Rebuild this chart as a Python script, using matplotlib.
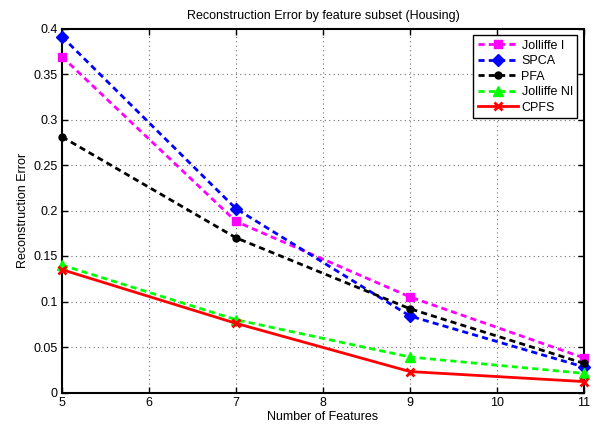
import matplotlib
matplotlib.use("Agg")
import matplotlib.pyplot as plt

plt.rcParams['font.family'] = ['Liberation Sans', 'DejaVu Sans']

n_features = [5, 7, 9, 11]
jolliffe_i = [0.369, 0.188, 0.105, 0.038]
spca = [0.391, 0.202, 0.084, 0.028]
pfa = [0.281, 0.170, 0.092, 0.032]
jolliffe_ni = [0.140, 0.080, 0.039, 0.021]
cpfs = [0.135, 0.076, 0.023, 0.012]

fig = plt.figure(figsize=(5.97, 4.28), dpi=100)
ax = fig.add_axes([62/597, 35.5/428, 522/597, 364/428])

dash = (2.2, 1.5)
common = dict(lw=2, clip_on=False, zorder=3)
ax.plot(n_features, jolliffe_i, '--', dashes=dash, color='#ff00ff', marker='s', ms=6, label='Jolliffe I', **common)
ax.plot(n_features, spca, '--', dashes=dash, color='#0000ff', marker='D', ms=6, label='SPCA', **common)
ax.plot(n_features, pfa, '--', dashes=dash, color='black', marker='o', ms=5, label='PFA', **common)
ax.plot(n_features, jolliffe_ni, '--', dashes=dash, color='#00ff00', marker='^', ms=7.5, label='Jolliffe NI', **common)
ax.plot(n_features, cpfs, '-', color='red', marker='x', ms=5.5, mew=2, label='CPFS', **common)

ax.set_xlim(5, 11)
ax.set_ylim(0, 0.4)
ax.set_xticks(range(5, 12))
ax.set_yticks([0, 0.05, 0.1, 0.15, 0.2, 0.25, 0.3, 0.35, 0.4])
ax.set_yticklabels(['0', '0.05', '0.1', '0.15', '0.2', '0.25', '0.3', '0.35', '0.4'])
ax.grid(True, linestyle=(0, (1, 3)), color='#707070', lw=0.8)
ax.tick_params(direction='in', top=True, right=True, labelsize=9, length=4, width=1, pad=3)
for s in ax.spines.values():
    s.set_linewidth(1.5)

ax.set_xlabel('Number of Features', fontsize=9, labelpad=2)
ax.set_ylabel('Reconstruction Error', fontsize=9, labelpad=3)
ax.set_title('Reconstruction Error by feature subset (Housing)', fontsize=9, pad=7)

leg = ax.legend(loc='upper right', fontsize=9, fancybox=False, framealpha=1,
                edgecolor='black', handlelength=3.2, borderpad=0.35,
                labelspacing=0.28, handletextpad=0.3, borderaxespad=0.55)
leg.get_frame().set_linewidth(1.0)

fig.savefig('out.png', dpi=100)
